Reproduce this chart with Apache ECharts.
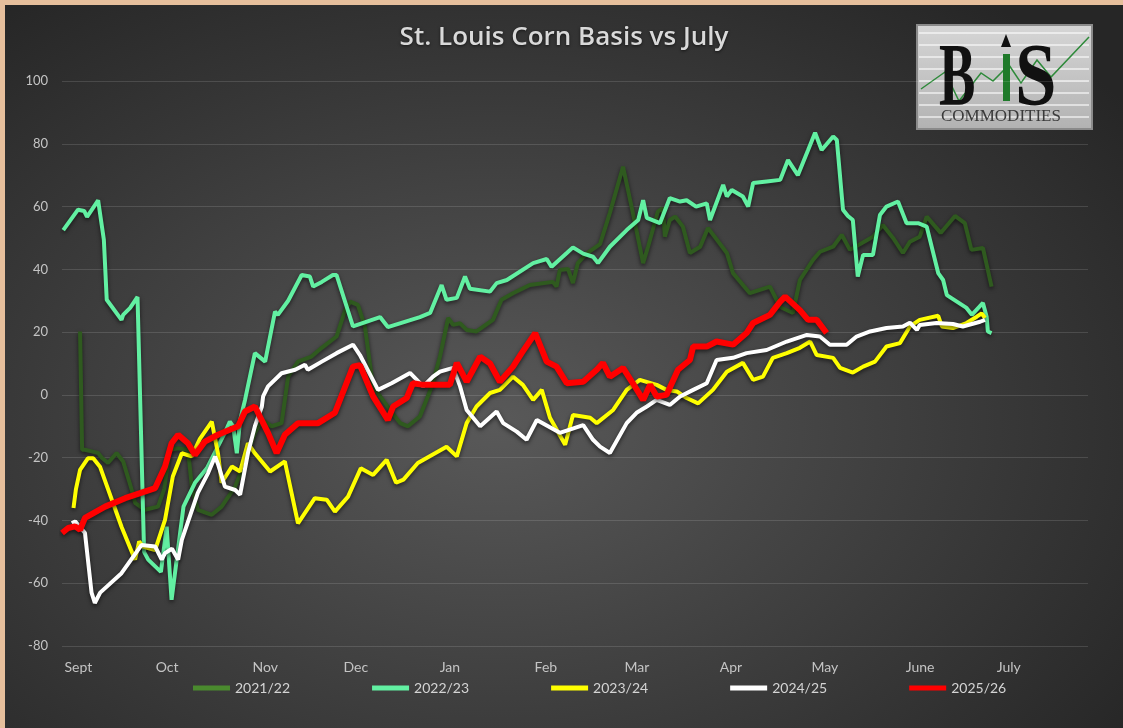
<!DOCTYPE html>
<html>
<head>
<meta charset="utf-8">
<script src="https://cdn.jsdelivr.net/npm/echarts@6/dist/echarts.min.js"></script>
<style>
  html, body { margin: 0; padding: 0; }
  body { width: 1123px; height: 728px; background: #e6bf9c; overflow: hidden; position: relative; }
  #chart {
    position: absolute; left: 5px; top: 5px; width: 1118px; height: 723px;
    background: radial-gradient(ellipse 70% 75% at 44% 58%, #595959 0%, #474747 35%, #353535 70%, #262626 100%);
  }
</style>
</head>
<body>
<div id="chart"></div>
<script>
// x = trading-day index from start of Sept, y = basis (cents vs July)
const monthPos = [4, 25.6, 49.5, 71.6, 94.5, 117.9, 140.1, 163, 185.9, 209.1, 230.7];
const monthNames = ["Sept", "Oct", "Nov", "Dec", "Jan", "Feb", "Mar", "Apr", "May", "June", "July"];
const yTicks = [-80, -60, -40, -20, 0, 20, 40, 60, 80, 100];

const s2122 = [
  [4.4, 20.2], [4.9, -17.5], [5.6, -17.5], [7.2, -18], [8.8, -18.5], [9.7, -20], [11.2, -21.7],
  [13.3, -18.5], [14.9, -21.2], [17.0, -30.3], [17.8, -34.4], [20.2, -36.6], [23.4, -35.6],
  [24.9, -30], [26.3, -17.5], [28.3, -17], [30.7, -17.5], [31.7, -30], [33.1, -36.6],
  [36.5, -38.2], [38.9, -35.6], [42.2, -29.2], [43.8, -23.9], [47.0, -12.2], [48.7, -8],
  [51.1, -10], [53.5, -9], [54.3, -1.6], [55.1, 5.8], [57.5, 10.6], [60.8, 12.2], [63.3, 15],
  [66.9, 18.6], [69.0, 27], [70.2, 29.7], [72.1, 28.7], [73.8, 21.8], [75.0, 10.2], [75.8, 2.7],
  [79.9, -4.8], [82.4, -9], [84.3, -10], [87.2, -6.9], [90.1, 2.7], [92.1, 12.2], [94.1, 24.5],
  [95.3, 22.3], [97.0, 22.8], [98.6, 20.7], [101.0, 20.2], [105.0, 23.9], [107.1, 30.3],
  [109.9, 32.4], [114.0, 35], [119.6, 36], [120.5, 34.5], [121.3, 39.8], [123.3, 40.1],
  [124.5, 35.6], [125.7, 42], [127.8, 45], [131.1, 48], [133.5, 58], [136.7, 72.7], [139.1, 58],
  [141.6, 42], [142.8, 47.2], [145.2, 58.4], [146.4, 59.5], [146.9, 50.4], [148.1, 55.7],
  [149.4, 56.8], [151.3, 53.6], [153.0, 45.2], [155.5, 47.2], [157.4, 53.2], [162.0, 45.2],
  [163.5, 38.8], [167.6, 32.4], [172.5, 34.5], [175.0, 28], [178.1, 26.1], [179.8, 36.6],
  [183.0, 43], [184.7, 45.6], [187.9, 47.2], [190.0, 51], [192.0, 46.2], [197.6, 50.4],
  [200.0, 54.1], [202.5, 50], [204.9, 45.2], [206.6, 48.8], [209.0, 50.4], [210.7, 56.8],
  [214.1, 51.6], [217.6, 57], [220.0, 54.7], [221.6, 46.2], [224.4, 46.8], [226.5, 34.5]
];

const s2223 = [
  [0.3, 52.5], [3.9, 59], [5.4, 58.6], [6.1, 56.7], [8.8, 62], [10.2, 49.4], [10.9, 30.3],
  [14.5, 23.9], [14.9, 25.5], [16.6, 27.7], [18.4, 31.2], [18.8, 31], [20.0, -50], [21.0, -52.5],
  [24.1, -56.4], [25.5, -42], [26.7, -65.3], [29.6, -35.6], [32.4, -28], [35.3, -23.4],
  [39.7, -12], [40.9, -8.5], [41.7, -10], [42.6, -18.6], [43.4, -8], [44.6, -1.6], [47.0, 13.3],
  [49.5, 10.6], [51.9, 26.5], [52.6, 25.5], [55.1, 30], [58.4, 38.2], [60.4, 37.7], [61.2, 34.5],
  [63.3, 36], [66.0, 38.2], [66.9, 38.2], [70.9, 21.8], [77.5, 24.8], [79.4, 21.6], [87.2, 24.8],
  [89.7, 26.1], [92.5, 35], [93.7, 30.3], [96.2, 30.9], [98.2, 37.7], [99.4, 33.8], [104.3, 32.9],
  [105.9, 35.6], [108.4, 36.6], [114.8, 42], [118.1, 43.3], [119.3, 40.8], [123.0, 45.2],
  [124.5, 47], [127.0, 45], [129.4, 44], [130.6, 42], [133.5, 47.2], [137.6, 52.5], [140.4, 55.7],
  [141.6, 62], [142.5, 56.4], [145.7, 54.7], [148.1, 62.7], [150.6, 61.6], [152.2, 62],
  [154.5, 60], [157.1, 61], [157.9, 55.7], [161.1, 66.9], [162.0, 63.2], [163.2, 65.3],
  [165.9, 63.2], [167.2, 60], [168.4, 67.5], [171.7, 68], [175.0, 68.5], [176.9, 74.8],
  [179.3, 70], [181.8, 78], [183.5, 83.5], [185.1, 78], [187.9, 82.3], [188.8, 81.2],
  [190.3, 59], [191.5, 57], [192.7, 55.7], [193.9, 37.7], [195.2, 44.6], [197.6, 44.6],
  [199.3, 57.3], [200.9, 60], [203.7, 61.6], [205.8, 54.7], [208.6, 54.7], [210.7, 53.6],
  [213.5, 38.8], [214.7, 36.6], [215.6, 31.8], [220.4, 27.7], [221.7, 25.5], [224.4, 29.3],
  [225.3, 24.9], [225.6, 20.2], [226.5, 19.7]
];

const s2324 = [
  [2.8, -36], [3.4, -30], [4.4, -23.9], [6.3, -20.2], [7.6, -20.2], [9.3, -23], [14.5, -42],
  [17.8, -52.5], [18.2, -53], [18.8, -46.7], [19.7, -48.3], [22.7, -49.4], [25.1, -39.8],
  [27.0, -26], [29.2, -18.6], [31.6, -19.6], [33.6, -14], [36.5, -8.5], [38.0, -18.6],
  [38.9, -28], [41.4, -22.8], [43.4, -24.4], [45.3, -15.4], [47.0, -18.6], [50.7, -24.4],
  [54.3, -21.2], [57.5, -40.9], [61.6, -32.9], [64.5, -33.4], [66.5, -37.2], [69.7, -32.4],
  [72.8, -23.4], [75.8, -25.5], [79.1, -20.7], [81.4, -28], [83.2, -27], [86.7, -21.7],
  [93.7, -16.5], [96.2, -19.6], [98.6, -9], [101.0, -3.7], [104.3, 0.6], [106.7, 1.6],
  [109.9, 5.8], [112.3, 3.2], [114.8, -1.6], [116.9, 1.6], [118.9, -7.3], [122.6, -15.9],
  [124.5, -6.4], [128.7, -7.3], [130.3, -9], [134.3, -4.8], [137.6, 1.6], [140.8, 4.8],
  [144.9, 3.2], [147.3, 1.6], [149.8, 1.1], [152.2, -1], [155.0, -2.7], [158.6, 1.6],
  [162.0, 7.4], [165.9, 10.2], [168.4, 4.8], [170.8, 5.8], [173.2, 11.8], [176.6, 13.3],
  [179.8, 15], [182.3, 17], [183.9, 12.7], [187.9, 11.8], [189.6, 8.6], [192.7, 7.1],
  [195.2, 9], [198.1, 10.6], [200.9, 15.4], [204.2, 16.5], [206.6, 21.8], [209.0, 23.9],
  [213.5, 25.2], [214.4, 21.8], [217.1, 21.3], [220.4, 22.9], [222.9, 24.9], [224.1, 26],
  [224.9, 24.5]
];

const s2425 = [
  [2.4, -40.9], [3.2, -40.3], [5.6, -44], [7.2, -63], [8.0, -66.3], [9.3, -63], [14.5, -56.8],
  [19.4, -47.8], [22.7, -48.3], [24.3, -52.5], [25.1, -50.4], [26.8, -49], [28.3, -52.5],
  [29.2, -46.2], [33.1, -31.2], [35.6, -24.9], [37.3, -19.6], [38.0, -22], [39.7, -29.2],
  [42.2, -30.3], [43.4, -31.8], [45.3, -18.6], [47.0, -10], [48.7, -3.7], [49.0, -0.5],
  [50.2, 2.7], [53.5, 6.9], [56.8, 8], [59.2, 9.6], [59.9, 8], [63.3, 10.6], [66.9, 13.3],
  [70.9, 16], [72.6, 12.7], [77.0, 1.6], [80.3, 3.7], [84.8, 7], [88.0, 2.7], [90.4, 5.8],
  [92.1, 7.4], [95.3, 8.6], [97.0, 2.7], [98.6, -4.8], [101.9, -10], [105.9, -5.3],
  [107.5, -9], [110.8, -11.7], [113.2, -14.3], [115.7, -8], [121.3, -12.1], [127.0, -9.6],
  [129.4, -14.3], [131.1, -16.5], [133.5, -18.5], [137.6, -9], [140.0, -5.7], [142.5, -3.7],
  [144.9, -1.6], [148.1, -3.2], [150.6, -0.5], [153.8, 1.6], [157.1, 3.7], [159.5, 11.1],
  [163.5, 11.8], [166.8, 13.3], [171.7, 14.3], [176.6, 17], [181.5, 19.1], [184.7, 18.6],
  [187.1, 16], [191.2, 16], [193.6, 18.6], [196.9, 20.2], [200.9, 21.3], [204.9, 21.8],
  [206.6, 23], [208.3, 20.7], [209.0, 22.3], [213.1, 22.9], [217.1, 22.6], [219.5, 21.8],
  [223.7, 23.3], [224.9, 23.9]
];

const s2526 = [
  [0, -44], [1.5, -42.4], [3.2, -41.9], [4.4, -43], [5.6, -39.2], [10.5, -35.6], [15.4, -32.9],
  [22.7, -29.7], [25.1, -22.8], [26.7, -15.4], [28.3, -12.7], [30.7, -15.4], [32.4, -19.1],
  [34.8, -14.9], [38.0, -12.7], [42.9, -10], [44.6, -5.3], [47.0, -3.7], [50.2, -12.1],
  [52.3, -18.5], [54.3, -12.7], [57.5, -9], [62.4, -9], [66.5, -5.7], [70.9, 9], [72.6, 9.5],
  [75.8, -0.5], [79.4, -8], [80.7, -3.7], [84.0, -1], [85.5, 3.7], [88.0, 3.2], [94.5, 3.2],
  [96.2, 10.2], [98.6, 4.2], [101.9, 12.2], [104.3, 10], [106.7, 4.2], [109.9, 9], [112.0, 13.3],
  [115.3, 19.7], [118.1, 10.6], [120.5, 9], [123.0, 3.7], [127.0, 4.2], [130.3, 8], [131.8, 10.2],
  [133.5, 5.8], [136.7, 8.6], [139.1, 3.7], [141.6, -1.6], [143.3, 3.2], [144.9, -0.5],
  [147.3, 0], [150.1, 8], [153.0, 11.1], [153.8, 15.4], [157.1, 15.4], [159.5, 17], [163.5, 16],
  [166.8, 19.7], [168.4, 22.9], [172.5, 25.5], [175.0, 29.7], [176.2, 31.3], [179.8, 27],
  [181.8, 23.9], [183.9, 23.9], [186.3, 19.7]
];

const FONT = "Lato, 'Open Sans', sans-serif";
const chart = echarts.init(document.getElementById("chart"));

function line(name, data, color, width) {
  return {
    name: name,
    type: "line",
    data: data,
    showSymbol: false,
    symbol: "none",
    animation: false,
    color: color,
    lineStyle: {
      color: color,
      width: width,
      shadowColor: "rgba(0,0,0,0.6)",
      shadowBlur: 4,
      shadowOffsetY: 2,
    },
  };
}

// logo stripes
const stripes = [];
for (let i = 0; i < 8; i++) {
  stripes.push({
    type: "line",
    shape: { x1: 2, y1: 8 + i * 12, x2: 172, y2: 8 + i * 12 },
    style: { stroke: "rgba(255,255,255,0.55)", lineWidth: 2 },
  });
}

chart.setOption({
  backgroundColor: "transparent",
  title: {
    text: "St. Louis Corn Basis vs July",
    left: "center",
    top: 15,
    textStyle: {
      color: "#d9d9d9",
      fontFamily: "'Open Sans', Lato, sans-serif",
      fontSize: 26,
      fontWeight: 600,
      textShadowColor: "rgba(0,0,0,0.6)",
      textShadowBlur: 3,
      textShadowOffsetY: 1,
    },
  },
  legend: {
    bottom: 28,
    left: 183,
    icon: "rect",
    itemWidth: 37,
    itemHeight: 5,
    itemGap: 82,
    textStyle: { color: "#d4d4d4", fontFamily: FONT, fontSize: 14 },
    data: [
      { name: "2021/22", itemStyle: { color: "#4a8a2e" } },
      { name: "2022/23" },
      { name: "2023/24" },
      { name: "2024/25" },
      { name: "2025/26" },
    ],
  },
  grid: { left: 57, right: 35, top: 76, bottom: 82 },
  xAxis: {
    type: "value",
    min: 0,
    max: 250,
    axisLine: { show: false },
    axisTick: { show: false },
    splitLine: { show: false },
    axisLabel: {
      customValues: monthPos,
      formatter: (v) => {
        let best = 0;
        monthPos.forEach((p, i) => {
          if (Math.abs(p - v) < Math.abs(monthPos[best] - v)) best = i;
        });
        return monthNames[best];
      },
      color: "#c4c4c4",
      fontFamily: FONT,
      fontSize: 14,
      margin: 14,
    },
  },
  yAxis: {
    type: "value",
    min: yTicks[0],
    max: yTicks[yTicks.length - 1],
    interval: 20,
    axisLine: { show: false },
    axisTick: { show: false },
    splitLine: { lineStyle: { color: "rgba(255,255,255,0.13)", width: 1 } },
    axisLabel: { color: "#c4c4c4", fontFamily: FONT, fontSize: 13, margin: 14 },
  },
  series: [
    line("2021/22", s2122, "#2f5a1f", 4),
    line("2022/23", s2223, "#62f0a2", 4),
    line("2023/24", s2324, "#ffff00", 4),
    line("2024/25", s2425, "#ffffff", 4),
    line("2025/26", s2526, "#ff0000", 6),
  ],
  graphic: [
    {
      type: "group",
      left: 911,
      top: 19,
      z: 100,
      children: [
        {
          type: "rect",
          shape: { x: 0, y: 0, width: 175, height: 104 },
          style: {
            fill: new echarts.graphic.LinearGradient(0, 0, 0, 1, [
              { offset: 0, color: "#d6d6d6" },
              { offset: 1, color: "#b2b2b2" },
            ]),
            stroke: "#8a8a8a",
            lineWidth: 2,
          },
        },
        ...stripes,
        {
          type: "polyline",
          shape: {
            points: [[4, 64], [28, 47], [42, 76], [64, 48], [76, 56], [92, 40], [104, 58], [120, 35], [134, 52], [172, 12]],
          },
          style: { stroke: "#2e8a3a", lineWidth: 1.5, fill: null },
        },
        {
          type: "text",
          x: 22,
          y: 12,
          scaleX: 0.62,
          style: { text: "B", font: "bold 88px 'Liberation Serif', serif", fill: "#111" },
        },
        {
          type: "polygon",
          shape: { points: [[84, 22], [89, 9], [94, 22]] },
          style: { fill: "#111" },
        },
        {
          type: "rect",
          shape: { x: 86, y: 29, width: 7, height: 47 },
          style: { fill: "#1f7a2a" },
        },
        {
          type: "text",
          x: 98,
          y: 12,
          scaleX: 0.85,
          style: { text: "S", font: "bold 88px 'Liberation Serif', serif", fill: "#111" },
        },
        {
          type: "text",
          x: 24,
          y: 83,
          style: { text: "COMMODITIES", font: "17px 'Liberation Serif', serif", fill: "#3a3a3a" },
        },
      ],
    },
  ],
});
</script>
</body>
</html>
